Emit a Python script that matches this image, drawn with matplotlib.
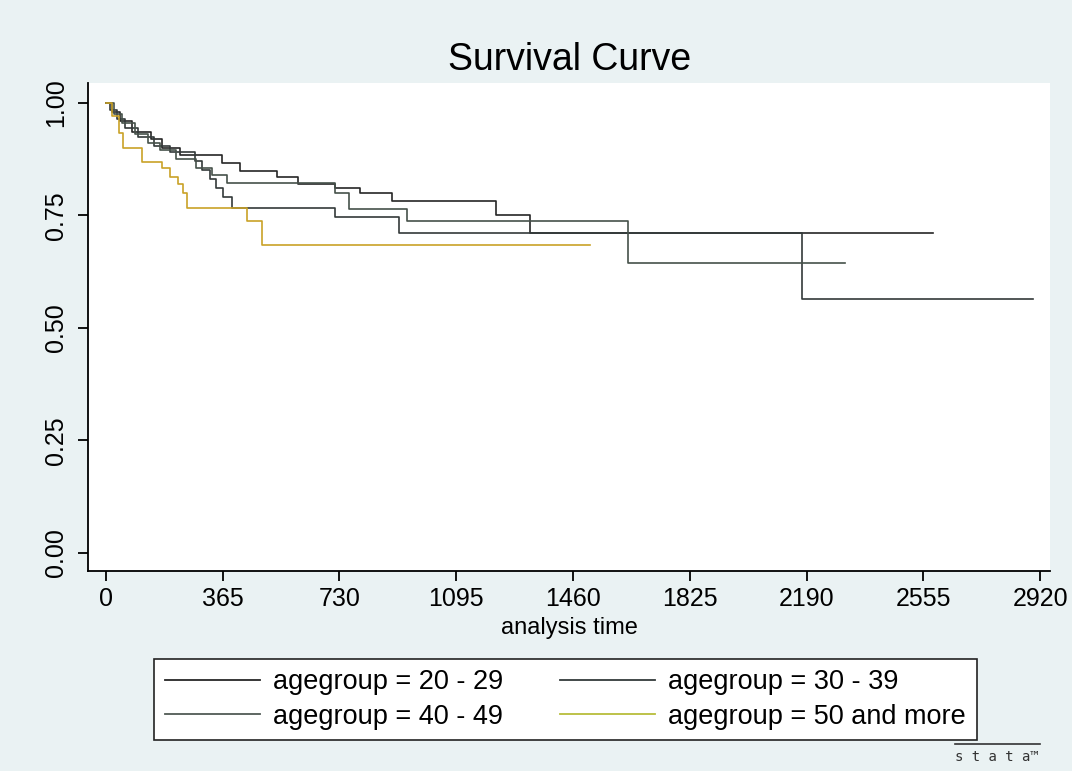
import matplotlib
matplotlib.use("Agg")
import matplotlib.pyplot as plt
from matplotlib.lines import Line2D

plt.rcParams["font.family"] = ["Liberation Sans", "DejaVu Sans"]

# Kaplan-Meier steps: (analysis time, survival)
t_2029 = [0, 20, 45, 80, 140, 175, 231, 363, 419, 535, 600, 716, 794, 894, 1220, 1325, 2585]
s_2029 = [1.0, 0.98, 0.96, 0.935, 0.92, 0.90, 0.884, 0.866, 0.849, 0.835, 0.82, 0.811, 0.80, 0.782, 0.751, 0.711, 0.711]

t_3039 = [0, 12, 35, 60, 100, 150, 200, 278, 300, 325, 345, 365, 394, 716, 916, 2176, 2898]
s_3039 = [1.0, 0.985, 0.965, 0.945, 0.925, 0.905, 0.89, 0.87, 0.85, 0.83, 0.81, 0.79, 0.767, 0.747, 0.711, 0.564, 0.564]

t_4049 = [0, 25, 50, 90, 130, 170, 220, 280, 330, 378, 716, 760, 940, 1631, 2310]
s_4049 = [1.0, 0.975, 0.955, 0.93, 0.91, 0.895, 0.875, 0.855, 0.84, 0.822, 0.80, 0.764, 0.738, 0.644, 0.644]

t_50 = [0, 20, 40, 53, 112, 175, 200, 225, 240, 253, 441, 488, 1513]
s_50 = [1.0, 0.97, 0.934, 0.90, 0.869, 0.855, 0.835, 0.82, 0.80, 0.767, 0.738, 0.684, 0.684]

labels = ["agegroup = 20 - 29", "agegroup = 30 - 39",
          "agegroup = 40 - 49", "agegroup = 50 and more"]
x_ticks = [0, 365, 730, 1095, 1460, 1825, 2190, 2555, 2920]
y_ticks = [0.0, 0.25, 0.50, 0.75, 1.00]

colors = ["#262626", "#333a3a", "#46514a", "#c9a227"]
legend_colors = ["#262626", "#333a3a", "#505a55", "#b7bd3a"]

fig = plt.figure(figsize=(10.72, 7.71), dpi=100, facecolor="#eaf2f3")
ax = fig.add_axes([0.0821, 0.2594, 0.8974, 0.6329])
ax.set_facecolor("white")

series = [(t_2029, s_2029), (t_3039, s_3039), (t_4049, s_4049), (t_50, s_50)]
for (t, s), c in zip(series, colors):
    ax.step(t, s, where="post", color=c, lw=1.2)

ax.set_xlim(-56, 2951)
ax.set_ylim(-0.04, 1.044)
ax.set_xticks(x_ticks)
ax.set_yticks(y_ticks)
ax.set_yticklabels([f"{v:.2f}" for v in y_ticks], rotation=90, va="center")
ax.tick_params(direction="out", length=7.5, width=1.3, labelsize=18)
ax.tick_params(axis="x", pad=4)
ax.tick_params(axis="y", pad=7)
for side in ["top", "right"]:
    ax.spines[side].set_visible(False)
for side in ["left", "bottom"]:
    ax.spines[side].set_linewidth(1.3)
ax.set_xlabel("analysis time", fontsize=17, labelpad=4)

fig.text(0.531, 0.922, "Survival Curve", fontsize=27, ha="center", va="center")

# legend is filled column by column, so order handles to read row by row
order = [0, 2, 1, 3]
handles = [Line2D([], [], color=legend_colors[i], lw=1.3) for i in order]
leg = fig.legend(handles, [labels[i] for i in order], ncol=2, loc="center",
                 bbox_to_anchor=(0.5275, 0.0928), fontsize=19.5,
                 handlelength=3.5, handletextpad=0.5, columnspacing=2.1,
                 labelspacing=0.3, borderpad=0.4, fancybox=False,
                 framealpha=1, edgecolor="#222222")
leg.get_frame().set_linewidth(1.2)

# stata logo, bottom right
fig.add_artist(Line2D([0.891, 0.970], [0.035, 0.035], color="#333333", lw=1.2))
fig.text(0.930, 0.018, "s t a t a\u2122", fontsize=10, ha="center", va="center",
         color="#333333", family="DejaVu Sans Mono")

fig.savefig("out.png", dpi=100, facecolor=fig.get_facecolor())
